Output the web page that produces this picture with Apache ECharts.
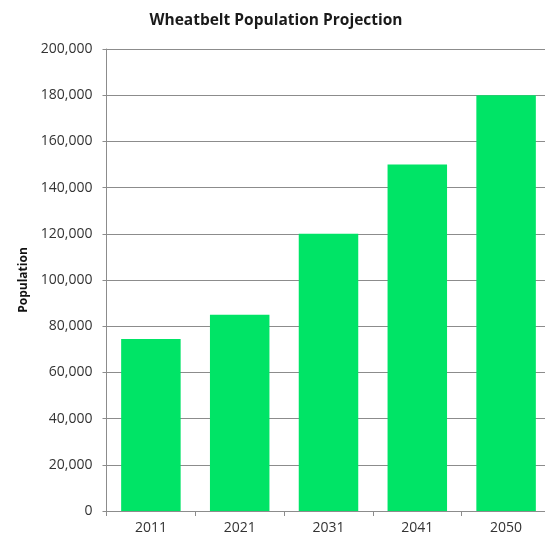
<!DOCTYPE html>
<html>
<head>
<meta charset="utf-8">
<script src="https://cdn.jsdelivr.net/npm/echarts@6/dist/echarts.min.js"></script>
<style>
  html, body { margin: 0; padding: 0; background: #fff; width: 545px; height: 539px; overflow: hidden; }
  /* the drawing surface is a little wider than the page so the last column runs off the right edge */
  #chart { width: 551px; height: 539px; }
</style>
</head>
<body>
<div id="chart"></div>
<script>
// Projected Wheatbelt population by census year
const years = ['2011', '2021', '2031', '2041', '2050'];
const population = [74500, 85000, 120000, 150000, 180000];
const yTicks = { min: 0, max: 200000, interval: 20000 };

const chart = echarts.init(document.getElementById('chart'));
const labelFont = '"Open Sans", "DejaVu Sans", sans-serif';

chart.setOption({
  animation: false,
  title: {
    text: 'Wheatbelt Population Projection',
    left: 271,
    textAlign: 'center',
    top: 8,
    textStyle: { fontFamily: labelFont, fontWeight: 'bold', fontSize: 15.5, color: '#1a1a1a' }
  },
  grid: { left: 106.5, right: 0.5, top: 49, bottom: 28, containLabel: false },
  xAxis: {
    type: 'category',
    data: years,
    axisLine: { lineStyle: { color: '#8c8c8c', width: 1 } },
    axisTick: { show: true, length: 5, lineStyle: { color: '#8c8c8c' } },
    axisLabel: { fontFamily: labelFont, fontSize: 14, color: '#333', margin: 10 }
  },
  yAxis: {
    type: 'value',
    min: yTicks.min,
    max: yTicks.max,
    interval: yTicks.interval,
    name: 'Population',
    nameLocation: 'middle',
    nameGap: 75,
    nameTextStyle: { fontFamily: labelFont, fontWeight: 'bold', fontSize: 12, color: '#111' },
    axisLine: { show: true, lineStyle: { color: '#8c8c8c', width: 1 } },
    axisTick: { show: true, length: 4, lineStyle: { color: '#8c8c8c' } },
    splitLine: { lineStyle: { color: '#8c8c8c', width: 1 } },
    axisLabel: {
      fontFamily: labelFont, fontSize: 14, color: '#333', margin: 14,
      formatter: v => v.toLocaleString('en-US')
    }
  },
  series: [{
    type: 'bar',
    data: population,
    barWidth: '67%',
    itemStyle: { color: '#00e466' }
  }]
});
</script>
</body>
</html>
